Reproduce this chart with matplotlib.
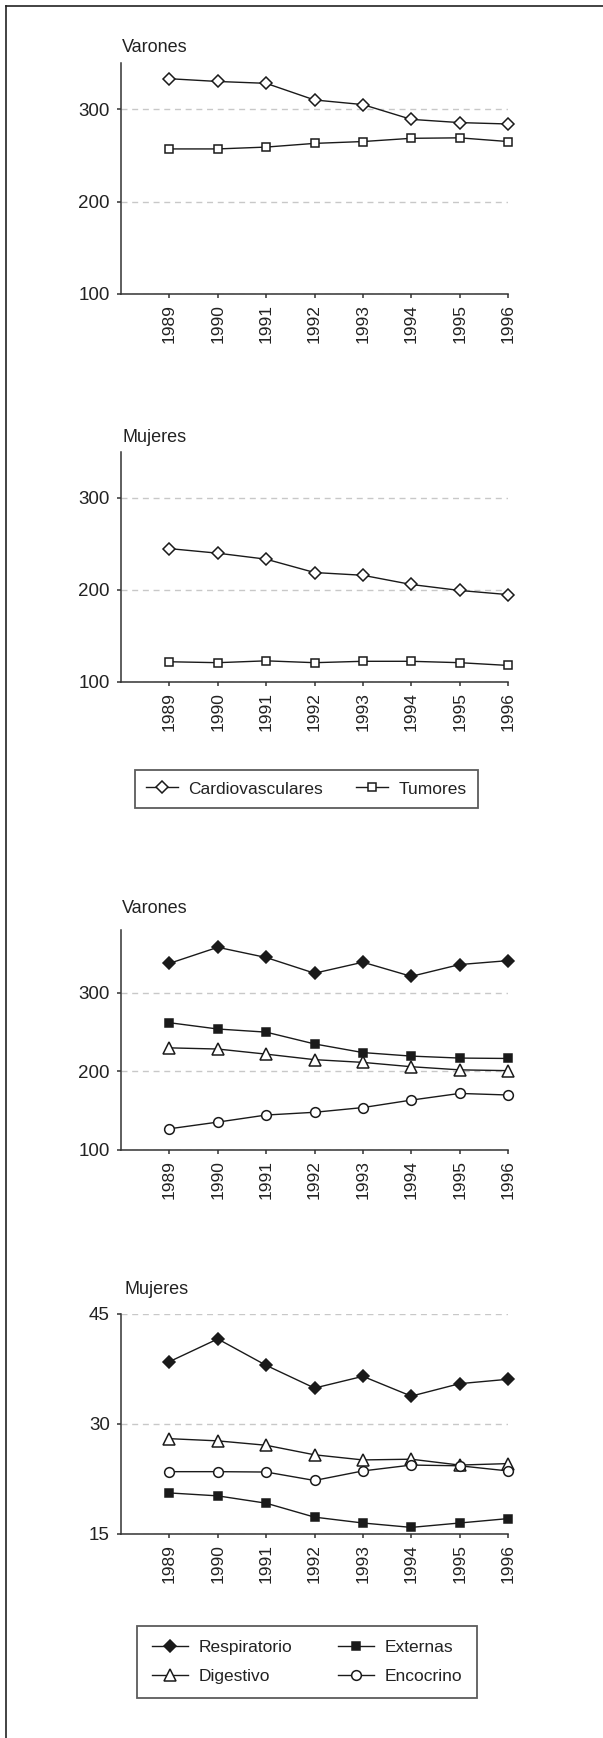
import matplotlib
matplotlib.use('Agg')
import matplotlib.pyplot as plt
from matplotlib.lines import Line2D

plt.rcParams['font.family'] = ['Liberation Sans', 'DejaVu Sans']

# Data
years = [1989, 1990, 1991, 1992, 1993, 1994, 1995, 1996]

# Panel 1 and 2: cardiovascular and tumours
cardio_varones = [333, 330, 328, 310, 305, 289, 285.5, 284]
tumores_varones = [257, 257, 259, 263, 265, 268.5, 269, 265]
cardio_mujeres = [245, 240, 233.5, 219, 216, 206, 199.5, 195]
tumores_mujeres = [122, 121, 123, 121, 122.5, 122.5, 121, 118]

# Panel 3 and 4: other causes
resp_varones = [337.5, 358, 345, 325, 339, 321, 336, 341]
ext_varones = [262, 254, 250, 235, 224, 219.5, 217, 216.5]
dig_varones = [230, 228.5, 222, 215, 211.5, 206, 202, 201]
endo_varones = [127, 135.5, 144.5, 148, 154, 163.5, 172, 170]

resp_mujeres = [38.5, 41.6, 38.0, 34.9, 36.5, 33.8, 35.5, 36.1]
dig_mujeres = [28.0, 27.7, 27.1, 25.8, 25.1, 25.2, 24.4, 24.6]
endo_mujeres = [23.5, 23.5, 23.45, 22.3, 23.6, 24.4, 24.3, 23.6]
ext_mujeres = [20.6, 20.2, 19.2, 17.3, 16.5, 15.9, 16.5, 17.1]

W, H = 603, 1738
fig = plt.figure(figsize=(W / 100, H / 100), dpi=100)

ink = '#1a1a1a'
axcol = '#333333'


def px_axes(top, bottom, left=121, right=508):
    return fig.add_axes([left / W, 1 - bottom / H, (right - left) / W, (bottom - top) / H])


def style(ax, ylim, yticks):
    ax.set_xlim(1988, 1996)
    ax.set_ylim(*ylim)
    ax.set_yticks(yticks)
    ax.set_xticks(years)
    ax.set_xticklabels([str(y) for y in years], rotation=90)
    for s in ['top', 'right']:
        ax.spines[s].set_visible(False)
    for s in ['left', 'bottom']:
        ax.spines[s].set_color(axcol)
        ax.spines[s].set_linewidth(1.1)
    ax.tick_params(axis='y', direction='out', length=3, width=1.1, color=axcol,
                   labelsize=13.5, pad=5, labelcolor='#222222')
    ax.tick_params(axis='x', direction='out', length=3, width=1.1, color=axcol,
                   labelsize=12.5, pad=4, labelcolor='#222222')
    ax.grid(axis='y', color='#c8c8c8', linestyle=(0, (4.3, 3.4)), linewidth=1.0)
    ax.set_axisbelow(True)


def plot_series(ax, vals, marker, ms, filled):
    fc = ink if filled else 'white'
    return ax.plot(years, vals, color=ink, lw=1.0, marker=marker, ms=ms,
                   mfc=fc, mec=ink, mew=1.1, clip_on=False, zorder=3)[0]


# Panel 1
ax1 = px_axes(63, 294)
style(ax1, (100, 350), [100, 200, 300])
plot_series(ax1, cardio_varones, 'D', 6, False)
plot_series(ax1, tumores_varones, 's', 6, False)

# Panel 2
ax2 = px_axes(452, 682)
style(ax2, (100, 350), [100, 200, 300])
h_cardio = plot_series(ax2, cardio_mujeres, 'D', 6, False)
h_tum = plot_series(ax2, tumores_mujeres, 's', 6, False)

# Panel 3
ax3 = px_axes(930, 1150)
style(ax3, (100, 380), [100, 200, 300])
plot_series(ax3, resp_varones, 'D', 6.5, True)
plot_series(ax3, ext_varones, 's', 6.3, True)
plot_series(ax3, dig_varones, '^', 8.3, False)
plot_series(ax3, endo_varones, 'o', 7, False)

# Panel 4
ax4 = px_axes(1314, 1534)
style(ax4, (15, 45), [15, 30, 45])
h_resp = plot_series(ax4, resp_mujeres, 'D', 6.5, True)
h_ext = plot_series(ax4, ext_mujeres, 's', 6.3, True)
h_dig = plot_series(ax4, dig_mujeres, '^', 8.3, False)
h_endo = plot_series(ax4, endo_mujeres, 'o', 7, False)

# Panel titles
for txt, x, y in [('Varones', 122, 52), ('Mujeres', 122, 442),
                  ('Varones', 122, 913), ('Mujeres', 124, 1294)]:
    fig.text(x / W, 1 - y / H, txt, fontsize=13, color='#222222', ha='left', va='baseline')

# Legends
leg_kw = dict(frameon=True, fancybox=False, fontsize=12.5,
              handletextpad=0.6, borderaxespad=0)
leg1 = fig.legend([h_cardio, h_tum], ['Cardiovasculares', 'Tumores'], ncol=2,
                  loc='center', bbox_to_anchor=(306.5 / W, 1 - 789 / H),
                  handlelength=1.85, borderpad=0.65, columnspacing=1.9, **leg_kw)
leg2 = fig.legend([h_resp, h_dig, h_ext, h_endo],
                  ['Respiratorio', 'Digestivo', 'Externas', 'Encocrino'], ncol=2,
                  loc='center', bbox_to_anchor=(307 / W, 1 - 1662 / H),
                  handlelength=2.1, borderpad=0.85, columnspacing=2.6,
                  labelspacing=0.75, **leg_kw)
for leg in (leg1, leg2):
    fr = leg.get_frame()
    fr.set_edgecolor('#333333')
    fr.set_linewidth(1.3)
    for t in leg.get_texts():
        t.set_color('#222222')

# Outer frame: top and left edges only
fig.add_artist(Line2D([6 / W, 1], [1 - 6 / H, 1 - 6 / H], color='#222222', lw=1.2))
fig.add_artist(Line2D([6 / W, 6 / W], [0, 1 - 6 / H], color='#222222', lw=1.2))

fig.savefig('out.png', dpi=100)
